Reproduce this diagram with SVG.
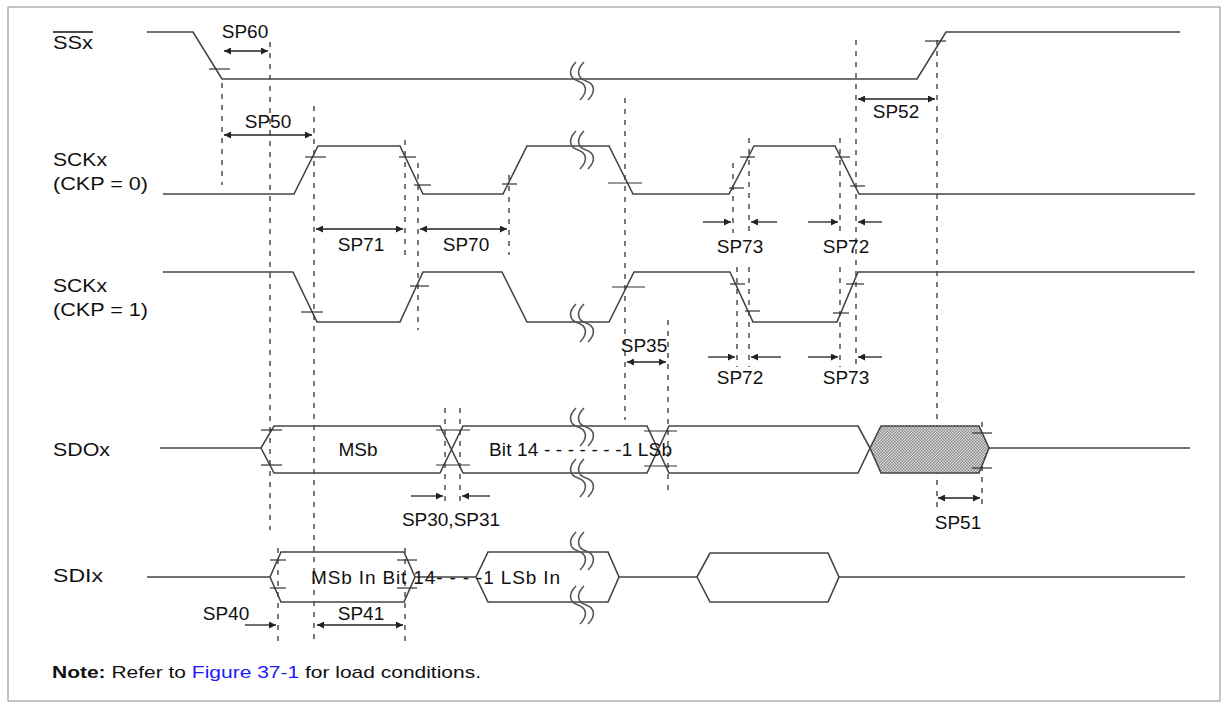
<svg xmlns="http://www.w3.org/2000/svg" width="1228" height="707" viewBox="0 0 1228 707">
<style>
.w{fill:none;stroke:#444;stroke-width:1.6}
.d{fill:none;stroke:#333;stroke-width:1.3;stroke-dasharray:5,6}
.t{fill:none;stroke:#333;stroke-width:1.2}
.a{fill:none;stroke:#222;stroke-width:1.3}
text{font-family:"Liberation Sans",Arial,sans-serif;font-size:19px;fill:#111}
.br{fill:none;stroke:#555;stroke-width:1.6}
</style>
<defs>
<marker id="ah" viewBox="0 0 10 10" refX="10" refY="5" markerWidth="10" markerHeight="7" orient="auto-start-reverse" markerUnits="userSpaceOnUse"><path d="M0,0 L10,5 L0,10 z" fill="#222"/></marker>
<pattern id="chk" width="3" height="3" patternUnits="userSpaceOnUse"><rect width="3" height="3" fill="#ddd"/><rect width="1.5" height="1.5" fill="#888"/><rect x="1.5" y="1.5" width="1.5" height="1.5" fill="#888"/></pattern>
<g id="brk"><path class="br" d="M-2,-19 C-10,-11 -9,-3 0,0 C9,3 10,11 2,19"/><path class="br" d="M6,-19 C-2,-11 -1,-3 8,0 C17,3 18,11 10,19"/></g>
</defs>
<rect x="8" y="7" width="1212" height="694" fill="#fff" stroke="#888" stroke-width="1"/>

<g id="labels">
<text x="53" y="49" textLength="40" lengthAdjust="spacingAndGlyphs">SSx</text><line x1="53" y1="32" x2="93" y2="32" stroke="#111" stroke-width="1.3"/>
<text x="53" y="166" textLength="54" lengthAdjust="spacingAndGlyphs">SCKx</text><text x="53" y="190" textLength="95" lengthAdjust="spacingAndGlyphs">(CKP = 0)</text>
<text x="53" y="292" textLength="54" lengthAdjust="spacingAndGlyphs">SCKx</text><text x="53" y="316" textLength="95" lengthAdjust="spacingAndGlyphs">(CKP = 1)</text>
<text x="53" y="456" textLength="57" lengthAdjust="spacingAndGlyphs">SDOx</text>
<text x="53" y="582" textLength="50" lengthAdjust="spacingAndGlyphs">SDIx</text>
<text x="52" y="678" style="font-size:17px" textLength="429" lengthAdjust="spacingAndGlyphs"><tspan font-weight="bold">Note:</tspan> Refer to <tspan fill="#1a1aff">Figure 37-1</tspan> for load conditions.</text>
</g>

<g id="connectors">
<line class="d" x1="222" y1="83" x2="222" y2="185"/>
<line class="d" x1="270" y1="42" x2="270" y2="530"/>
<line class="d" x1="314" y1="106" x2="314" y2="645"/>
<line class="d" x1="405" y1="140" x2="405" y2="255"/>
<line class="d" x1="418" y1="163" x2="418" y2="330"/>
<line class="d" x1="509" y1="175" x2="509" y2="255"/>
<line class="d" x1="625" y1="98" x2="625" y2="420"/>
<line class="d" x1="668" y1="320" x2="668" y2="492"/>
<line class="d" x1="733" y1="163" x2="733" y2="233"/>
<line class="d" x1="749" y1="138" x2="749" y2="233"/>
<line class="d" x1="840" y1="138" x2="840" y2="233"/>
<line class="d" x1="856" y1="40" x2="856" y2="367"/>
<line class="d" x1="937" y1="40" x2="937" y2="510"/>
<line class="d" x1="737" y1="267" x2="737" y2="367"/>
<line class="d" x1="749" y1="267" x2="749" y2="367"/>
<line class="d" x1="840" y1="267" x2="840" y2="367"/>
<line class="d" x1="445" y1="408" x2="445" y2="507"/>
<line class="d" x1="460" y1="408" x2="460" y2="507"/>
<line class="d" x1="982" y1="422" x2="982" y2="510"/>
<line class="d" x1="278" y1="548" x2="278" y2="643"/>
<line class="d" x1="405" y1="548" x2="405" y2="643"/>

<line class="a" x1="224" y1="51" x2="268" y2="51" marker-start="url(#ah)" marker-end="url(#ah)"/>
<line class="a" x1="224" y1="135" x2="312" y2="135" marker-start="url(#ah)" marker-end="url(#ah)"/>
<line class="a" x1="858" y1="99" x2="935" y2="99" marker-start="url(#ah)" marker-end="url(#ah)"/>
<line class="a" x1="316" y1="229" x2="403" y2="229" marker-start="url(#ah)" marker-end="url(#ah)"/>
<line class="a" x1="420" y1="229" x2="507" y2="229" marker-start="url(#ah)" marker-end="url(#ah)"/>
<line class="a" x1="703" y1="222" x2="731" y2="222" marker-end="url(#ah)"/>
<line class="a" x1="777" y1="222" x2="751" y2="222" marker-end="url(#ah)"/>
<line class="a" x1="808" y1="222" x2="838" y2="222" marker-end="url(#ah)"/>
<line class="a" x1="882" y1="222" x2="858" y2="222" marker-end="url(#ah)"/>
<line class="a" x1="708" y1="357" x2="735" y2="357" marker-end="url(#ah)"/>
<line class="a" x1="781" y1="357" x2="751" y2="357" marker-end="url(#ah)"/>
<line class="a" x1="808" y1="357" x2="838" y2="357" marker-end="url(#ah)"/>
<line class="a" x1="882" y1="357" x2="858" y2="357" marker-end="url(#ah)"/>
<line class="a" x1="627" y1="362" x2="666" y2="362" marker-start="url(#ah)" marker-end="url(#ah)"/>
<line class="a" x1="411" y1="496" x2="443" y2="496" marker-end="url(#ah)"/>
<line class="a" x1="490" y1="496" x2="462" y2="496" marker-end="url(#ah)"/>
<line class="a" x1="938" y1="498" x2="980" y2="498" marker-start="url(#ah)" marker-end="url(#ah)"/>
<line class="a" x1="245" y1="625" x2="276" y2="625" marker-end="url(#ah)"/>
<line class="a" x1="317" y1="625" x2="403" y2="625" marker-start="url(#ah)" marker-end="url(#ah)"/>
</g>

<g id="timing-labels">
<text x="245" y="38" text-anchor="middle">SP60</text>
<text x="268" y="128" text-anchor="middle">SP50</text>
<text x="896" y="118" text-anchor="middle">SP52</text>
<text x="361" y="251" text-anchor="middle">SP71</text>
<text x="466" y="251" text-anchor="middle">SP70</text>
<text x="740" y="253" text-anchor="middle">SP73</text>
<text x="846" y="253" text-anchor="middle">SP72</text>
<text x="644" y="352" text-anchor="middle">SP35</text>
<text x="740" y="384" text-anchor="middle">SP72</text>
<text x="846" y="384" text-anchor="middle">SP73</text>
<text x="451" y="526" text-anchor="middle">SP30,SP31</text>
<text x="958" y="529" text-anchor="middle">SP51</text>
<text x="226" y="620" text-anchor="middle">SP40</text>
<text x="361" y="620" text-anchor="middle">SP41</text>
</g>

<g id="SSx">
<path class="w" d="M147,32 H193 L222,79 H917 L946,32 H1180"/>
<line class="t" x1="209" y1="69" x2="230" y2="69"/>
<line class="t" x1="925" y1="41" x2="946" y2="41"/>
<use href="#brk" x="578" y="81"/>
</g>

<g id="SCK0">
<path class="w" d="M163,194 H294 L318,146 H400 L423,194 H503 L527,146 H609 L633,194 H729 L754,146 H835 L859,194 H1195"/>
<line class="t" x1="305" y1="157" x2="326" y2="157"/>
<line class="t" x1="399" y1="157" x2="416" y2="157"/>
<line class="t" x1="414" y1="185" x2="431" y2="185"/>
<line class="t" x1="502" y1="184" x2="517" y2="184"/>
<line class="t" x1="608" y1="183" x2="642" y2="183"/>
<line class="t" x1="729" y1="188" x2="744" y2="188"/>
<line class="t" x1="740" y1="157" x2="755" y2="157"/>
<line class="t" x1="835" y1="157" x2="850" y2="157"/>
<line class="t" x1="850" y1="186" x2="865" y2="186"/>
<use href="#brk" x="578" y="150"/>
</g>

<g id="SCK1">
<path class="w" d="M163,272 H293 L317,322 H400 L423,272 H502 L527,322 H609 L634,272 H730 L753,322 H837 L858,272 H1195"/>
<line class="t" x1="301" y1="312" x2="323" y2="312"/>
<line class="t" x1="410" y1="286" x2="429" y2="286"/>
<line class="t" x1="612" y1="287" x2="645" y2="287"/>
<line class="t" x1="730" y1="284" x2="745" y2="284"/>
<line class="t" x1="745" y1="311" x2="760" y2="311"/>
<line class="t" x1="833" y1="313" x2="849" y2="313"/>
<line class="t" x1="846" y1="284" x2="864" y2="284"/>
<use href="#brk" x="578" y="323"/>
</g>

<g id="SDOx">
<path d="M870,448 L881,426 H979 L989,448 L979,473 H881 Z" fill="url(#chk)" stroke="#444" stroke-width="1.6"/>
<path class="w" d="M160,448 H261 L274,426 H440 L463,473 H647 L669,426 H858 L870,448 L858,473 H669 L647,426 H463 L440,473 H274 L261,448"/>
<path class="w" d="M989,448 H1190"/>
<line class="t" x1="261" y1="430" x2="282" y2="430"/>
<line class="t" x1="261" y1="465" x2="282" y2="465"/>
<line class="t" x1="436" y1="430" x2="470" y2="430"/>
<line class="t" x1="436" y1="465" x2="470" y2="465"/>
<line class="t" x1="644" y1="431" x2="677" y2="431"/>
<line class="t" x1="644" y1="466" x2="677" y2="466"/>
<line class="t" x1="972" y1="433" x2="992" y2="433"/>
<line class="t" x1="972" y1="468" x2="992" y2="468"/>
<text x="358" y="456" text-anchor="middle">MSb</text>
<text x="489" y="456" textLength="183" lengthAdjust="spacing">Bit 14 - - - - - - -1 LSb</text>
<use href="#brk" x="578" y="427"/>
<use href="#brk" x="578" y="478"/>
</g>

<g id="SDIx">
<path class="w" d="M147,577 H270 L281,552 H404 L415,577 L404,602 H281 L270,577"/>
<path class="w" d="M415,577 H476 L488,552 H608 L619,577 L608,602 H488 L476,577 M619,577 H697 L710,553 H828 L839,577 L828,602 H710 L697,577 M839,577 H1185"/>
<line class="t" x1="270" y1="560" x2="286" y2="560"/>
<line class="t" x1="270" y1="588" x2="286" y2="588"/>
<line class="t" x1="397" y1="560" x2="417" y2="560"/>
<line class="t" x1="397" y1="588" x2="417" y2="588"/>
<text x="311" y="584" textLength="249" lengthAdjust="spacing">MSb In Bit 14- - - -1 LSb In</text>
<use href="#brk" x="578" y="551"/>
<use href="#brk" x="578" y="605"/>
</g>
</svg>
